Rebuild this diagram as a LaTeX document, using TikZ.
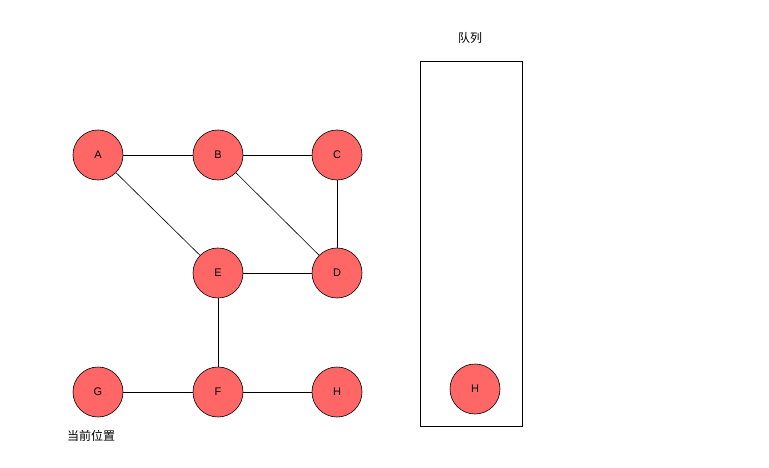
\documentclass[tikz,border=0pt]{standalone}
\usepackage{fontspec}
\setmainfont{Liberation Sans}
\newfontfamily\cjk{Noto Sans CJK SC}
\definecolor{nodered}{HTML}{FF6666}
\begin{document}
\begin{tikzpicture}[
        x=1pt, y=-1pt,
        vertex/.style={draw, circle, fill=nodered, minimum size=50pt, inner sep=0pt, font=\fontsize{11pt}{13pt}\selectfont},
        every path/.style={line width=0.6pt},
    ]
    \useasboundingbox (0,0) rectangle (769,468);
    \node[vertex](A) at (98,155){A};
    \node[vertex](B) at (218,155){B};
    \node[vertex](C) at (337,155){C};
    \node[vertex](E) at (218,273){E};
    \node[vertex](D) at (337,273){D};
    \node[vertex](G) at (98,392){G};
    \node[vertex](F) at (218,392){F};
    \node[vertex](H) at (337,392){H};

    \draw (A) -- (B);
    \draw (B) -- (C);
    \draw (A) -- (E);
    \draw (B) -- (D);
    \draw (C) -- (D);
    \draw (E) -- (D);
    \draw (E) -- (F);
    \draw (G) -- (F);
    \draw (F) -- (H);

    % queue
    \node[draw, minimum width=102pt, minimum height=365pt, inner sep=0pt](queue) at (471,243.5){};
    \node[vertex](qH) at (475,389){H};
    \node[font=\cjk\fontsize{12pt}{14pt}\selectfont](qlabel) at (470,38){队列};
    \node[font=\cjk\fontsize{12pt}{14pt}\selectfont](cur) at (91,436){当前位置};
\end{tikzpicture}
\end{document}
